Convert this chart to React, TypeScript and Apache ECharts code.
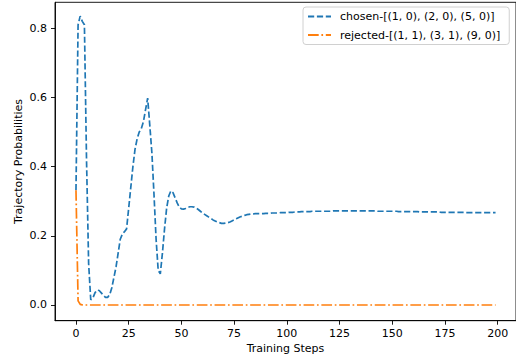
import React, { useEffect, useRef } from "react";
import * as echarts from "echarts";

const chosenName = "chosen-[(1, 0), (2, 0), (5, 0)]";
const rejectedName = "rejected-[(1, 1), (3, 1), (9, 0)]";

const xTicks = [0, 25, 50, 75, 100, 125, 150, 175, 200];
const yTicks = [0, 0.2, 0.4, 0.6, 0.8];

// steps 0..199
const chosen = [
  0.332, 0.81, 0.835, 0.82, 0.81, 0.42, 0.12, 0.015, 0.02, 0.035,
  0.043, 0.042, 0.035, 0.028, 0.022, 0.022, 0.03, 0.05, 0.08, 0.11,
  0.15, 0.19, 0.205, 0.212, 0.22, 0.28, 0.34, 0.40, 0.45, 0.48,
  0.50, 0.51, 0.53, 0.565, 0.598, 0.52, 0.44, 0.32, 0.19, 0.10,
  0.09, 0.15, 0.22, 0.28, 0.315, 0.33, 0.325, 0.31, 0.295, 0.283,
  0.278, 0.277, 0.279, 0.282, 0.284, 0.284, 0.283, 0.28, 0.276, 0.271,
  0.266, 0.262, 0.258, 0.254, 0.25, 0.246, 0.243, 0.24, 0.238, 0.236,
  0.236, 0.237, 0.238, 0.24, 0.243, 0.246, 0.249, 0.252, 0.255, 0.257,
  0.259, 0.261, 0.262, 0.263, 0.263, 0.264, 0.264, 0.264, 0.264, 0.264,
  0.265, 0.265, 0.265, 0.266, 0.266, 0.266, 0.266, 0.267, 0.267, 0.267,
  0.267, 0.268, 0.268, 0.268, 0.269, 0.269, 0.269, 0.27, 0.27, 0.27,
  0.27, 0.27, 0.271, 0.271, 0.271, 0.271, 0.271, 0.271, 0.271, 0.271,
  0.271, 0.271, 0.272, 0.272, 0.272, 0.272, 0.272, 0.272, 0.272, 0.272,
  0.272, 0.272, 0.272, 0.272, 0.272, 0.272, 0.272, 0.272, 0.272, 0.272,
  0.272, 0.272, 0.272, 0.271, 0.271, 0.271, 0.271, 0.271, 0.271, 0.271,
  0.271, 0.271, 0.271, 0.27, 0.27, 0.27, 0.27, 0.27, 0.27, 0.27,
  0.27, 0.27, 0.27, 0.269, 0.269, 0.269, 0.269, 0.269, 0.269, 0.269,
  0.269, 0.269, 0.269, 0.268, 0.268, 0.268, 0.268, 0.268, 0.268, 0.268,
  0.268, 0.268, 0.268, 0.268, 0.268, 0.267, 0.267, 0.267, 0.267, 0.267,
  0.267, 0.267, 0.267, 0.267, 0.267, 0.267, 0.267, 0.267, 0.267, 0.267,
];

const rejected = [
  0.332, 0.012, 0.002, 0.0005, 0, 0, 0, 0, 0, 0,
  0, 0, 0, 0, 0, 0, 0, 0, 0, 0,
  0, 0, 0, 0, 0, 0, 0, 0, 0, 0,
  0, 0, 0, 0, 0, 0, 0, 0, 0, 0,
  0, 0, 0, 0, 0, 0, 0, 0, 0, 0,
  0, 0, 0, 0, 0, 0, 0, 0, 0, 0,
  0, 0, 0, 0, 0, 0, 0, 0, 0, 0,
  0, 0, 0, 0, 0, 0, 0, 0, 0, 0,
  0, 0, 0, 0, 0, 0, 0, 0, 0, 0,
  0, 0, 0, 0, 0, 0, 0, 0, 0, 0,
  0, 0, 0, 0, 0, 0, 0, 0, 0, 0,
  0, 0, 0, 0, 0, 0, 0, 0, 0, 0,
  0, 0, 0, 0, 0, 0, 0, 0, 0, 0,
  0, 0, 0, 0, 0, 0, 0, 0, 0, 0,
  0, 0, 0, 0, 0, 0, 0, 0, 0, 0,
  0, 0, 0, 0, 0, 0, 0, 0, 0, 0,
  0, 0, 0, 0, 0, 0, 0, 0, 0, 0,
  0, 0, 0, 0, 0, 0, 0, 0, 0, 0,
  0, 0, 0, 0, 0, 0, 0, 0, 0, 0,
  0, 0, 0, 0, 0, 0, 0, 0, 0, 0,
];

const FONT = "DejaVu Sans";

export default function App() {
  const ref = useRef<HTMLDivElement>(null);
  useEffect(() => {
    if (!ref.current) return;
    const chart = echarts.init(ref.current, undefined, { renderer: "svg" });
    const toPairs = (arr: number[]) => arr.map((v, i) => [i, v]);
    chart.setOption({
      animation: false,
      backgroundColor: "#fff",
      textStyle: { fontFamily: FONT },
      grid: {
        left: 55,
        right: 0,
        top: 2.3,
        bottom: 39.3,
        show: true,
        borderColor: "#000",
        borderWidth: 0.9,
      },
      legend: {
        orient: "vertical",
        left: 303,
        top: 7,
        padding: [4, 9, 4, 4],
        itemWidth: 23,
        itemHeight: 12,
        itemGap: 7.5,
        borderColor: "#d0d0d0",
        borderWidth: 1,
        borderRadius: 3,
        backgroundColor: "rgba(255,255,255,0.8)",
        itemStyle: { opacity: 0 },
        textStyle: { fontFamily: FONT, fontSize: 11, color: "#000", padding: [0, 0, 0, 4] },
        data: [chosenName, rejectedName],
      },
      xAxis: {
        type: "value",
        min: -9.95,
        max: 208.7,
        name: "Training Steps",
        nameLocation: "middle",
        nameGap: 22,
        nameMoveOverlap: false,
        nameTextStyle: { fontFamily: FONT, fontSize: 11, color: "#000" },
        axisLine: { show: true, onZero: false, lineStyle: { color: "#000", width: 0.9 } },
        axisTick: { show: true, length: 4, customValues: xTicks, lineStyle: { color: "#000", width: 0.9 } },
        axisLabel: {
          customValues: xTicks,
          margin: 7,
          fontFamily: FONT,
          fontSize: 11,
          color: "#000",
          formatter: (v: number) => String(v),
        },
        splitLine: { show: false },
      },
      yAxis: {
        type: "value",
        min: -0.0454,
        max: 0.875,
        name: "Trajectory Probabilities",
        nameLocation: "middle",
        nameGap: 31,
        nameMoveOverlap: false,
        nameTextStyle: { fontFamily: FONT, fontSize: 11, color: "#000" },
        axisLine: { show: true, onZero: false, lineStyle: { color: "#000", width: 0.9 } },
        axisTick: { show: true, length: 4, customValues: yTicks, lineStyle: { color: "#000", width: 0.9 } },
        axisLabel: {
          customValues: yTicks,
          margin: 8,
          fontFamily: FONT,
          fontSize: 11,
          color: "#000",
          formatter: (v: number) => v.toFixed(1),
        },
        splitLine: { show: false },
      },
      series: [
        {
          name: chosenName,
          type: "line",
          data: toPairs(chosen),
          symbol: "none",
          showSymbol: false,
          color: "#1f77b4",
          lineStyle: { color: "#1f77b4", width: 1.7, type: [6.2, 2.7] },
        },
        {
          name: rejectedName,
          type: "line",
          data: toPairs(rejected),
          symbol: "none",
          showSymbol: false,
          color: "#ff7f0e",
          lineStyle: { color: "#ff7f0e", width: 1.7, type: [10.7, 2.7, 1.7, 2.7] },
        },
      ],
    });
    return () => chart.dispose();
  }, []);
  return <div ref={ref} style={{ width: 516, height: 360, position: "absolute", left: 0, top: 0 }} />;
}
